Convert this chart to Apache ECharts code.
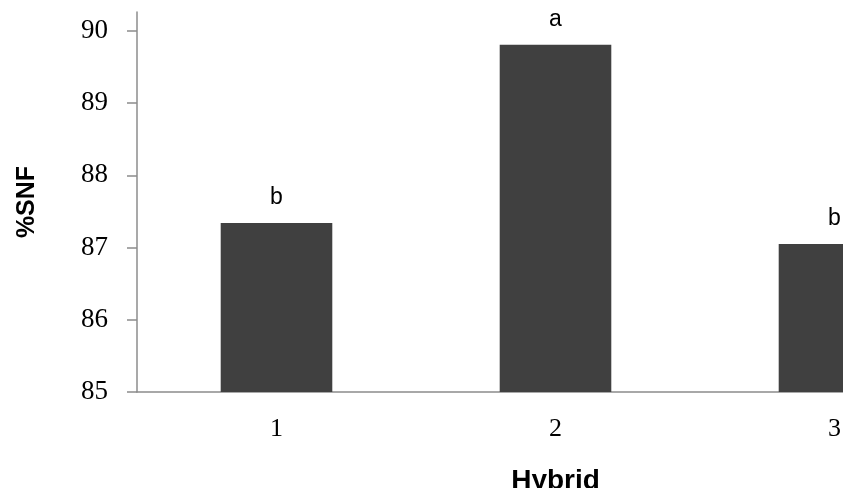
<!DOCTYPE html>
<html>

<head>
    <meta charset="utf-8">
    <title>SNF by hybrid</title>
    <script src="https://cdn.jsdelivr.net/npm/echarts@6/dist/echarts.min.js"></script>
    <style>
        html, body { margin: 0; padding: 0; background: #fff; }
    </style>
</head>

<body>
    <div id="main" style="width: 843px;height:488px;"></div>
    <script type="text/javascript">
        // data
        var hybrids = ['1', '2', '3'];
        var snf = [87.34, 89.81, 87.05];
        var letters = ['b', 'a', 'b'];
        var yTicks = [85, 86, 87, 88, 89, 90];

        var myChart = echarts.init(document.getElementById('main'));

        var option = {
            animation: false,
            grid: {
                left: 137,
                top: 12,
                height: 380,
                width: 837,
                containLabel: false,
                outerBoundsMode: 'none'
            },
            xAxis: {
                type: 'category',
                data: hybrids,
                name: 'Hybrid',
                nameLocation: 'middle',
                nameGap: 75,
                nameTextStyle: {
                    fontFamily: 'Liberation Sans, Arial, sans-serif',
                    fontWeight: 'bold',
                    fontSize: 28,
                    color: '#000'
                },
                axisLine: { lineStyle: { color: '#8c8c8c', width: 1.5 } },
                axisTick: { alignWithLabel: false, length: 7, lineStyle: { color: '#8c8c8c', width: 1.5 } },
                axisLabel: {
                    margin: 24,
                    fontFamily: 'Liberation Serif, Times New Roman, serif',
                    fontSize: 26,
                    color: '#000'
                }
            },
            yAxis: {
                type: 'value',
                min: 85,
                max: 90.263,
                name: '%SNF',
                nameLocation: 'middle',
                nameGap: 97,
                nameTextStyle: {
                    fontFamily: 'Liberation Sans, Arial, sans-serif',
                    fontWeight: 'bold',
                    fontSize: 25,
                    color: '#000'
                },
                splitLine: { show: false },
                axisLine: { show: true, lineStyle: { color: '#8c8c8c', width: 1.5 } },
                axisTick: { show: true, length: 10, customValues: yTicks, lineStyle: { color: '#8c8c8c', width: 1.5 } },
                axisLabel: {
                    customValues: yTicks,
                    margin: 29,
                    fontFamily: 'Liberation Serif, Times New Roman, serif',
                    fontSize: 27,
                    color: '#000'
                }
            },
            series: [{
                type: 'bar',
                data: snf,
                barWidth: '40%',
                itemStyle: { color: '#404040' },
                label: {
                    show: true,
                    position: 'top',
                    distance: 14,
                    fontFamily: 'Liberation Sans, Arial, sans-serif',
                    fontSize: 23,
                    color: '#000',
                    formatter: function (p) { return letters[p.dataIndex]; }
                }
            }]
        };

        myChart.setOption(option);
    </script>
</body>

</html>
